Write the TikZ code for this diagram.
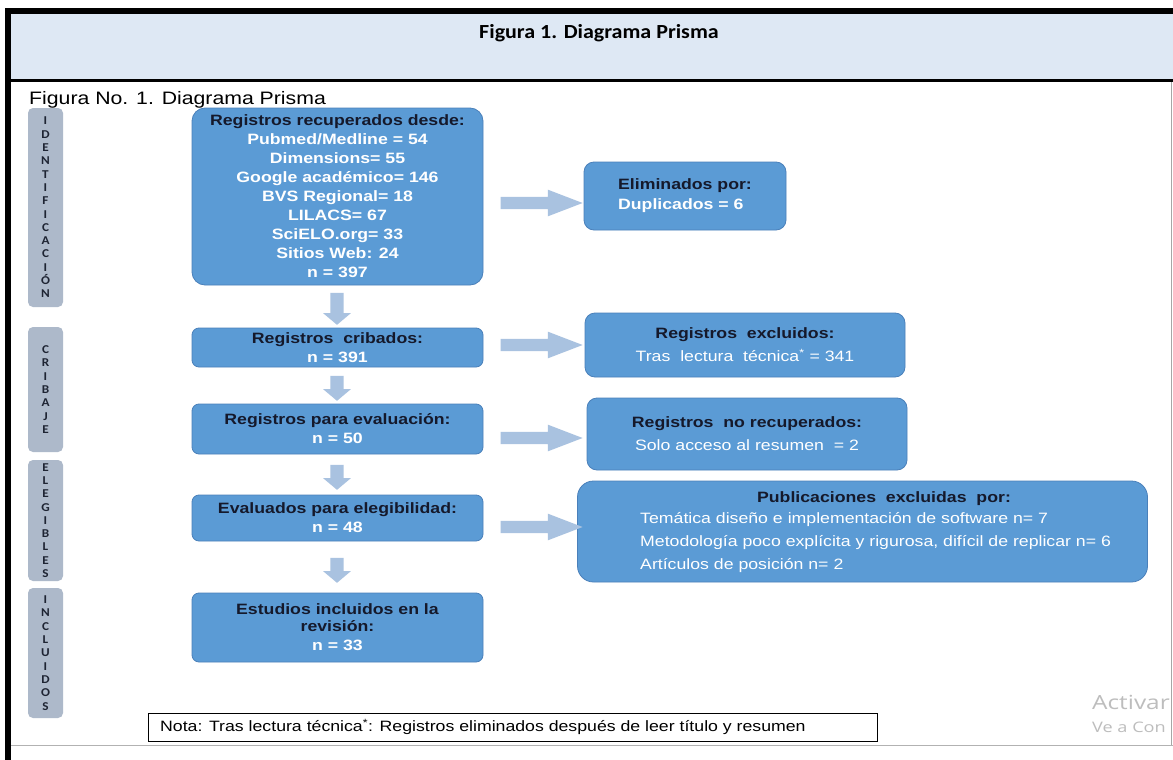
\documentclass[tikz,border=0pt]{standalone}
\usepackage{fontspec}
\setmainfont[FakeStretch=1.18]{Liberation Sans}
\newfontfamily\calib[FakeStretch=1.1]{Carlito}
\newfontfamily\sidefont[FakeStretch=1.1]{Carlito}
\newfontfamily\wmfont[FakeStretch=1.25]{Open Sans}
\usetikzlibrary{shapes.arrows,calc}

\definecolor{boxblue}{HTML}{5B9BD5}
\definecolor{boxedge}{HTML}{4A80BA}
\definecolor{arrowblue}{HTML}{A9C2E0}
\definecolor{sidegray}{HTML}{ADB9CA}
\definecolor{headblue}{HTML}{DEE8F4}
\definecolor{darktxt}{HTML}{15192B}
\definecolor{sidetxt}{HTML}{1E2433}
\definecolor{wmgray}{HTML}{BDBDBD}

\tikzset{
  mainbox/.style={draw=boxedge, line width=0.8pt, fill=boxblue, rounded corners=7pt,
    inner sep=0pt, align=center, text=white, font=\fontsize{15}{19}\selectfont\bfseries},
  rbox/.style={draw=boxedge, line width=0.8pt, fill=boxblue, rounded corners=10pt,
    inner sep=0pt, text=white, font=\fontsize{15}{23}\selectfont},
  sidebox/.style={fill=sidegray, rounded corners=5pt, inner sep=0pt, align=center,
    minimum width=35pt, text=sidetxt, font=\sidefont\fontsize{12}{13.3}\selectfont\bfseries},
  downarrow/.style={single arrow, fill=arrowblue, draw=none, inner xsep=0pt, inner ysep=6.5pt,
    minimum width=25pt, single arrow tip angle=100, rotate=-90},
  rightarrow/.style={single arrow, fill=arrowblue, draw=none, inner xsep=0pt, inner ysep=6pt,
    minimum width=19pt, single arrow tip angle=42, minimum height=82pt},
}
\newcommand{\hdr}[1]{\textcolor{darktxt}{\textbf{#1}}}

\begin{document}
\begin{tikzpicture}[x=1pt,y=-1pt]
\useasboundingbox (0,0) rectangle (1173,760);
\clip (0,0) rectangle (1173,760);
% frame and header
\fill[white] (0,0) rectangle (1173,760);
\fill[headblue] (10,12) rectangle (1173,80);
\fill[black] (5,8) rectangle (1173,14);
\fill[black] (5,8) rectangle (11,760);
\fill[black] (10,79) rectangle (1173,82);
\draw[gray!60, line width=1pt] (11,745.5) -- (1173,745.5);
\draw[gray!70, line width=1pt] (1171.5,82) -- (1171.5,745);
\node[font=\calib\bfseries\fontsize{20}{22}\selectfont] (title) at (599,33) {Figura 1. Diagrama Prisma};
\node[anchor=west, inner sep=0pt, font=\fontsize{18}{20}\selectfont] (subtitle) at (29,100) {Figura No. 1. Diagrama Prisma};

% side labels
\node[sidebox, minimum height=199pt] (s1) at (45.5,207.5) {I\\D\\E\\N\\T\\I\\F\\I\\C\\A\\C\\I\\Ó\\N};
\node[sidebox, minimum height=125pt] (s2) at (45.5,389.5) {C\\R\\I\\B\\A\\J\\E};
\node[sidebox, minimum height=121pt] (s3) at (45.5,520.5) {E\\L\\E\\G\\I\\B\\L\\E\\S};
\node[sidebox, minimum height=130pt] (s4) at (45.5,653) {I\\N\\C\\L\\U\\I\\D\\O\\S};

% main boxes
\node[mainbox, rounded corners=13pt, minimum width=291pt, minimum height=177pt] (b1) at (337.5,196.5)
  {\hdr{Registros recuperados desde:}\\Pubmed/Medline = 54\\Dimensions= 55\\Google académico= 146\\BVS Regional= 18\\LILACS= 67\\SciELO.org= 33\\Sitios Web: 24\\n = 397};
\node[mainbox, minimum width=291pt, minimum height=39pt] (b2) at (337.5,347.5)
  {\hdr{Registros\ \ cribados:}\\n = 391};
\node[mainbox, minimum width=291pt, minimum height=50pt] (b3) at (337.5,429)
  {\hdr{Registros para evaluación:}\\n = 50};
\node[mainbox, minimum width=291pt, minimum height=46pt] (b4) at (337.5,518)
  {\hdr{Evaluados para elegibilidad:}\\n = 48};
\node[mainbox, minimum width=291pt, minimum height=69pt, font=\fontsize{15}{17}\selectfont\bfseries] (b5) at (337.5,627.5)
  {\hdr{Estudios incluidos en la}\\\hdr{revisión:}\\[2pt]n = 33};

% right boxes
\node[rbox, minimum width=202pt, minimum height=68pt, align=left, font=\fontsize{15}{20}\selectfont\bfseries] (r1) at (685,196)
  {\hdr{Eliminados por:}\\Duplicados = 6};
\node[rbox, minimum width=320pt, minimum height=64pt, align=center] (r2) at (745,345)
  {\hdr{Registros\ \ excluidos:}\\Tras\ \ lectura\ \ técnica\textsuperscript{*} = 341};
\node[rbox, minimum width=320pt, minimum height=72pt, align=center] (r3) at (747,434)
  {\hdr{Registros\ \ no recuperados:}\\Solo acceso al resumen\ \ = 2};
\node[rbox, rounded corners=16pt, minimum width=570pt, minimum height=101pt] (r4) at (862.5,531.5) {};
\node[font=\fontsize{15}{18}\selectfont\bfseries, text=darktxt, inner sep=0pt] (r4h) at (884,499) {Publicaciones\ \ excluidas\ \ por:};
\node[anchor=west, text=white, inner sep=0pt, align=left, font=\fontsize{15}{23}\selectfont] (r4t) at (640,543)
  {Temática diseño e implementación de software n= 7\\Metodología poco explícita y rigurosa, difícil de replicar n= 6\\Artículos de posición n= 2};

% down arrows
\node[downarrow, minimum height=32pt] (d1) at (337,306) {};
\node[downarrow, minimum height=25pt] (d2) at (337,385.5) {};
\node[downarrow, minimum height=25pt] (d3) at (337,474.5) {};
\node[downarrow, minimum height=25pt] (d4) at (337,567.5) {};

% right arrows
\node[rightarrow] (a1) at (533.5,203) {};
\node[rightarrow] (a2) at (533.5,345) {};
\node[rightarrow] (a3) at (533.5,438) {};
\node[rightarrow] (a4) at (533.5,527) {};

% note
\node[draw=black, line width=0.8pt, minimum width=729pt, minimum height=28pt, inner sep=0pt] (note) at (512.5,727) {};
\node[anchor=west, inner sep=0pt, font=\fontsize{15}{16}\selectfont] (notet) at (160,727)
  {Nota: Tras lectura técnica\textsuperscript{*}: Registros eliminados después de leer título y resumen};

% watermark
\node[anchor=west, inner sep=0pt, text=wmgray, font=\wmfont\fontsize{19.5}{21}\selectfont] (wm1) at (1092,702) {Activar};
\node[anchor=west, inner sep=0pt, text=wmgray, font=\wmfont\fontsize{14.5}{16}\selectfont] (wm2) at (1092,727) {Ve a Con};
\end{tikzpicture}
\end{document}
